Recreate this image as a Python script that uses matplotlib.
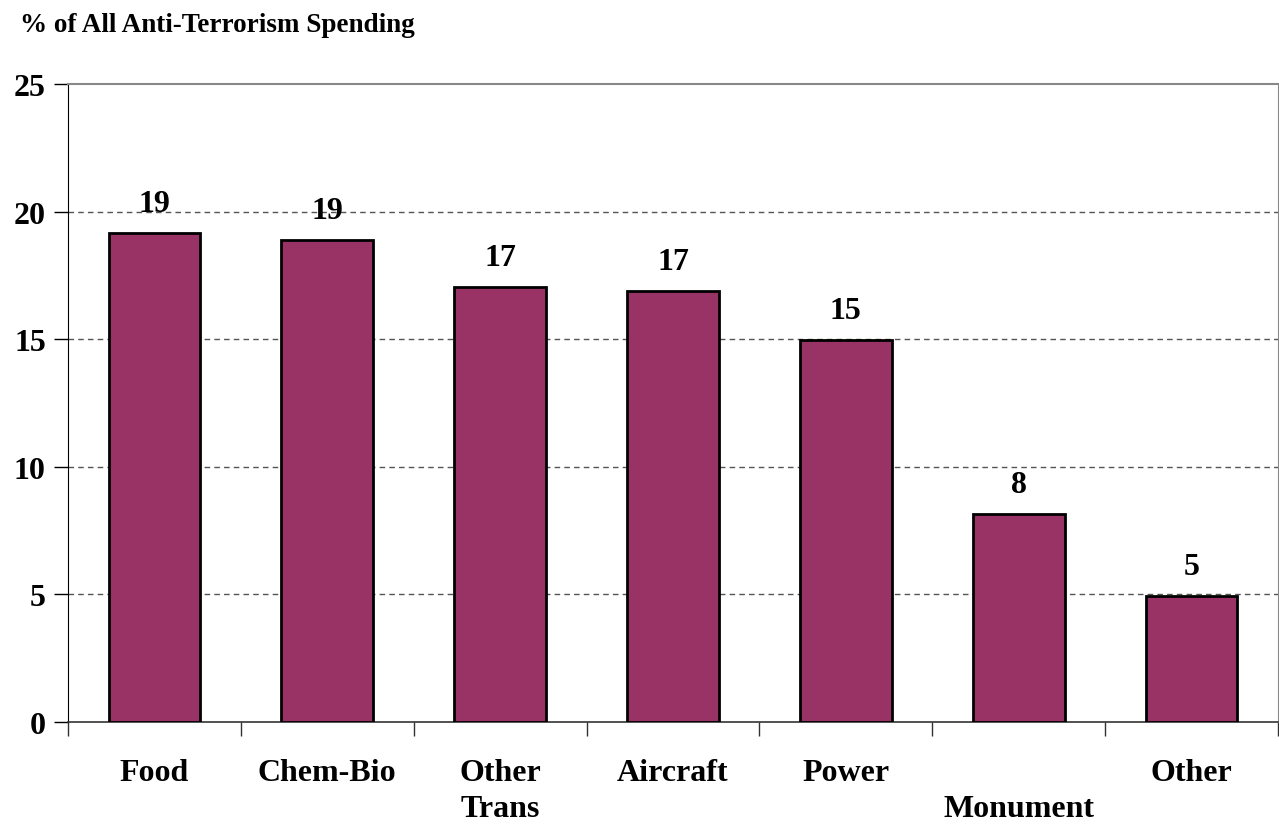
import matplotlib.pyplot as plt
import numpy as np

categories = ['Food', 'Chem-Bio', 'Other\nTrans', 'Aircraft', 'Power', '\nMonument', 'Other']
values = [19.15, 18.9, 17.05, 16.88, 14.97, 8.15, 4.93]
labels = ['19', '19', '17', '17', '15', '8', '5']

plt.rcParams['font.family'] = ['Liberation Serif', 'DejaVu Serif']
plt.rcParams['font.weight'] = 'bold'

fig = plt.figure(figsize=(12.79, 8.28), dpi=100)
ax = fig.add_axes([68/1279, 1-723/828, (1278-68)/1279, (723-85)/828])

x = np.arange(len(categories))
ax.bar(x, values, width=0.53, color='#993366', edgecolor='black', linewidth=2, zorder=3)
for xi, v, lab in zip(x, values, labels):
    ax.text(xi, v + 1.15, lab, ha='center', va='center', fontsize=23, fontweight='bold')

ax.set_xlim(-0.5, len(categories) - 0.5)
ax.set_ylim(0, 25)
ax.set_yticks([0, 5, 10, 15, 20, 25])
ax.set_yticklabels(['0', '5', '10', '15', '20', '25'], fontsize=23, fontweight='bold')
for yv in [5, 10, 15, 20]:
    ax.axhline(yv, color='#555555', linestyle=(0, (4, 3)), linewidth=1, zorder=1)

# category boundary ticks
ax.set_xticks(np.arange(len(categories) + 1) - 0.5)
ax.set_xticklabels([])
ax.set_xticks(x, minor=True)
ax.set_xticklabels(categories, minor=True, fontsize=23, fontweight='bold', linespacing=1.3)
ax.tick_params(axis='x', which='minor', length=0, pad=26)
ax.tick_params(axis='x', which='major', length=10, width=1, color='#333333', direction='out')
ax.tick_params(axis='y', length=10, width=1, pad=6)

ax.spines['left'].set_color('black')
ax.spines['bottom'].set_color('#333333')
ax.spines['bottom'].set_linewidth(1.2)
ax.spines['top'].set_color('#888888')
ax.spines['top'].set_linewidth(1.5)
ax.spines['right'].set_color('#888888')

fig.text(20/1279, 1-25/828, '% of All Anti-Terrorism Spending', fontsize=19.5, fontweight='bold',
         ha='left', va='center')

fig.savefig('out.png', dpi=100)
